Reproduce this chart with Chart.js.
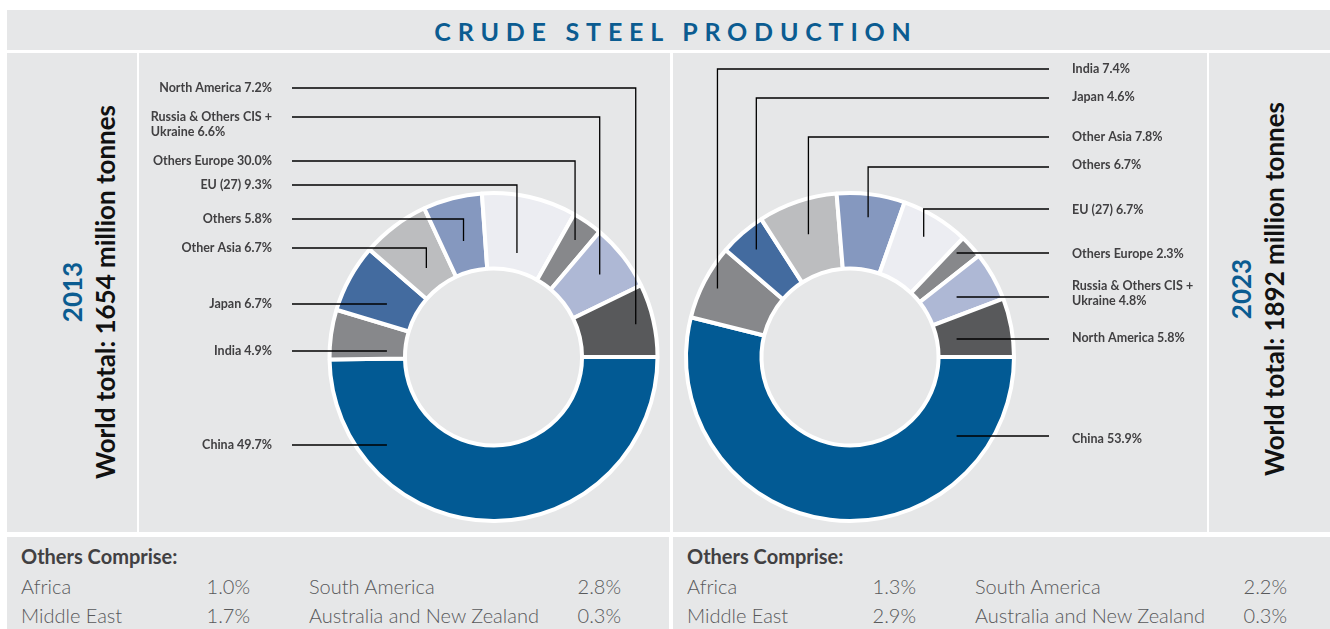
<!DOCTYPE html>
<html lang="en">
<head>
    <meta charset="UTF-8">
    <title>Crude Steel Production</title>
    <script src="https://cdn.jsdelivr.net/npm/chart.js"></script>
    <style>
        body {
            margin: 0;
            background: #fff;
            font-family: Lato, 'Open Sans', sans-serif;
        }
        #page {
            position: relative;
            width: 1330px;
            height: 629px;
            overflow: hidden;
        }
        .box {
            position: absolute;
            background: #e6e7e8;
        }
        .banner {
            left: 7px; top: 10px; width: 1323px; height: 40px;
            padding-left: 15px; box-sizing: border-box; padding-top: 2px;
            text-align: center;
            line-height: 38px;
            font-size: 25px;
            font-weight: bold;
            letter-spacing: 6.8px;
            color: #0b5c91;
        }
        .year {
            position: absolute;
            transform: translate(-50%, -50%) rotate(-90deg);
            white-space: nowrap;
            text-align: center;
            font-weight: bold;
            font-size: 26px;
            line-height: 33px;
            color: #111;
        }
        .year .y { color: #0b5c91; }
        .chartbox canvas { display: block; }
        .others div {
            position: absolute;
            line-height: 24px;
            white-space: nowrap;
        }
        .others .head {
            font-weight: bold;
            font-size: 20px;
            color: #414042;
        }
        .others .cell {
            font-weight: 300;
            font-size: 20px;
            color: #58595b;
        }
    </style>
</head>
<body>
<div id="page">
    <div class="box banner">CRUDE STEEL PRODUCTION</div>

    <div class="box" style="left:7px; top:53px; width:130px; height:479px;"></div>
    <div class="year" style="left:89px; top:292px;"><span class="y">2013</span><br>World total: 1654 million tonnes</div>

    <div class="box chartbox" style="left:139px; top:53px; width:531px; height:479px;">
        <canvas id="chart2013"></canvas>
    </div>
    <div class="box chartbox" style="left:673px; top:53px; width:534px; height:479px;">
        <canvas id="chart2023"></canvas>
    </div>

    <div class="box" style="left:1209px; top:53px; width:121px; height:479px;"></div>
    <div class="year" style="left:1258px; top:289px;"><span class="y">2023</span><br>World total: 1892 million tonnes</div>

    <div class="box others" id="others2013" style="left:7px; top:537px; width:662px; height:92px;"></div>
    <div class="box others" id="others2023" style="left:673px; top:537px; width:657px; height:92px;"></div>
</div>

<script>
    // regions in drawing order (clockwise from 3 o'clock)
    const regions = ['China', 'India', 'Japan', 'Other Asia', 'Others', 'EU (27)', 'Others Europe', 'Russia & Others CIS + Ukraine', 'North America'];
    const share2013 = [49.7, 4.9, 6.7, 6.7, 5.8, 9.3, 3.0, 6.6, 7.2];
    const share2023 = [53.9, 7.4, 4.6, 7.8, 6.7, 6.7, 2.3, 4.8, 5.8];
    const colors = ['#025a94', '#87888b', '#436b9f', '#bcbdbf', '#8598bf', '#ecedf2', '#87888b', '#aeb8d5', '#58595b'];

    // label text as printed in the source
    const labels2013 = [['China 49.7%'], ['India 4.9%'], ['Japan 6.7%'], ['Other Asia 6.7%'], ['Others 5.8%'],
        ['EU (27) 9.3%'], ['Others Europe 30.0%'], ['Russia & Others CIS +', 'Ukraine 6.6%'], ['North America 7.2%']];
    const labels2023 = [['China 53.9%'], ['India 7.4%'], ['Japan 4.6%'], ['Other Asia 7.8%'], ['Others 6.7%'],
        ['EU (27) 6.7%'], ['Others Europe 2.3%'], ['Russia & Others CIS +', 'Ukraine 4.8%'], ['North America 5.8%']];

    // "Others comprise" breakdown
    const othersNames = ['Africa', 'Middle East', 'South America', 'Australia and New Zealand'];
    const others2013 = ['1.0%', '1.7%', '2.8%', '0.3%'];
    const others2023 = ['1.3%', '2.9%', '2.2%', '0.3%'];

    // label layout (canvas px); anchorR = where the leader ends, as a fraction of the outer radius
    const layout2013 = {
        side: -1, lineX: 153, textX: 133,
        textY: [392, 298, 251, 195, 166, 132, 108, 64, 35],
        lineY: [392, 298, 251, 195, 166, 132, 108, 64, 35],
        kind: ['h', 'h', 'h', 'e', 'e', 'e', 'e', 'e', 'e'],
        anchorR: [0, 0, 0, 0.68, 0.73, 0.65, 0.87, 0.82, 0.89]
    };
    const layout2023 = {
        side: 1, lineX: 376, textX: 399,
        textY: [386, 16, 44, 84, 112, 157, 201, 233, 285],
        lineY: [383, 16, 45, 84, 114, 156, 200, 244, 286],
        kind: ['h', 'e', 'e', 'e', 'e', 'e', 'h', 'h', 'h'],
        anchorR: [0, 0.91, 0.87, 0.79, 0.86, 0.86, 0, 0, 0]
    };

    function leaders(labels, lay) {
        return {
            id: 'leaders',
            afterDatasetsDraw(chart) {
                const ctx = chart.ctx;
                const arcs = chart.getDatasetMeta(0).data;
                ctx.save();
                ctx.lineWidth = 1.3;
                ctx.strokeStyle = '#000000';
                ctx.fillStyle = '#414042';
                ctx.font = 'bold 12.5px Lato';
                ctx.textBaseline = 'middle';
                arcs.forEach(function(arc, i) {
                    const p = arc.getProps(['x', 'y', 'startAngle', 'endAngle', 'outerRadius'], true);
                    const mid = (p.startAngle + p.endAngle) / 2;
                    const ly = lay.lineY[i];
                    let ax, ay;
                    if (lay.kind[i] === 'e') {
                        ax = p.x + p.outerRadius * lay.anchorR[i] * Math.cos(mid);
                        ay = p.y + p.outerRadius * lay.anchorR[i] * Math.sin(mid);
                    } else {
                        ax = p.x + lay.side * p.outerRadius * 0.65;
                        ay = ly;
                    }
                    ctx.beginPath();
                    ctx.moveTo(lay.lineX, ly);
                    ctx.lineTo(ax, ly);
                    ctx.lineTo(ax, ay);
                    ctx.stroke();

                    const lines = labels[i];
                    let x = lay.textX;
                    if (lay.side < 0) {
                        const w = Math.max.apply(null, lines.map(t => ctx.measureText(t).width));
                        x = lay.textX - w;
                    }
                    ctx.textAlign = 'left';
                    lines.forEach(function(t, k) {
                        ctx.fillText(t, x, lay.textY[i] + k * 14.5);
                    });
                });
                ctx.restore();
            }
        };
    }

    function makeChart(id, values, labels, lay, padding) {
        new Chart(document.getElementById(id), {
            type: 'doughnut',
            data: {
                labels: regions,
                datasets: [{
                    data: values,
                    backgroundColor: colors,
                    borderColor: '#ffffff',
                    borderWidth: 4,
                    hoverOffset: 0
                }]
            },
            options: {
                responsive: true,
                maintainAspectRatio: false,
                animation: false,
                events: [],
                rotation: 90,
                radius: 164,
                cutout: 88,
                layout: { padding: padding },
                plugins: {
                    legend: { display: false },
                    tooltip: { enabled: false }
                }
            },
            plugins: [leaders(labels, lay)]
        });
    }

    makeChart('chart2013', share2013, labels2013, layout2013, { left: 188, right: 10, top: 139, bottom: 10 });
    makeChart('chart2023', share2023, labels2023, layout2023, { left: 10, right: 190, top: 139, bottom: 10 });

    function fillOthers(id, values) {
        const box = document.getElementById(id);
        let html = '<div class="head" style="left:14px; top:7px;">Others Comprise:</div>';
        const cols = [{ name: 14, val: 243 }, { name: 302, val: 614 }];
        for (let i = 0; i < othersNames.length; i++) {
            const c = cols[Math.floor(i / 2)];
            const top = (i % 2 === 0 ? 49 : 78) - 12;
            html += '<div class="cell" style="left:' + c.name + 'px; top:' + top + 'px;">' + othersNames[i] + '</div>';
            html += '<div class="cell" style="right:' + (box.offsetWidth - c.val) + 'px; top:' + top + 'px;">' + values[i] + '</div>';
        }
        box.innerHTML = html;
    }
    fillOthers('others2013', others2013);
    fillOthers('others2023', others2023);
</script>
</body>
</html>
